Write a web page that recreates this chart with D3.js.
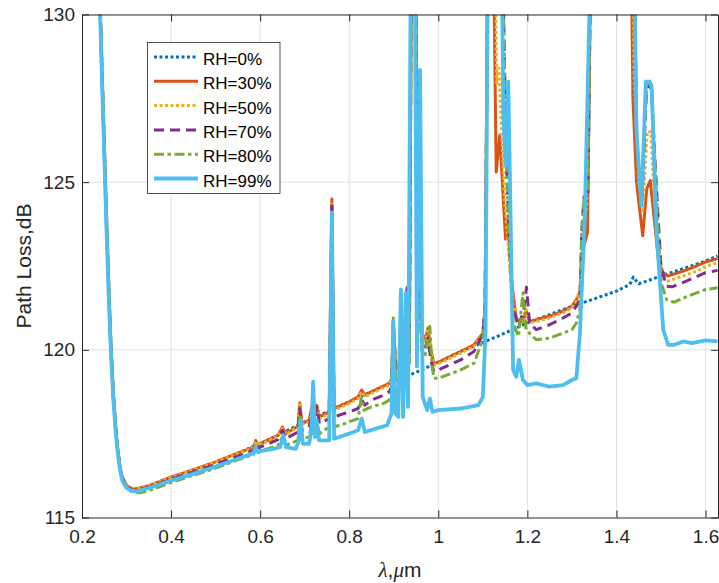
<!DOCTYPE html>
<html>
<head>
<meta charset="utf-8">
<script src="https://cdn.jsdelivr.net/npm/d3@7"></script>
<style>
body { margin: 0; background: #fff; }
text { font-family: "Liberation Sans", Arial, Helvetica, sans-serif; }
</style>
</head>
<body>
<script>
// [wavelength in um, path loss in dB]
let rh0 = [[0.225,137],[0.23,134.5],[0.235,132.3],[0.24,130.3],[0.245,128.0],[0.25,125.8],[0.255,123.6],[0.26,121.6],[0.265,119.9],[0.27,118.6],[0.275,117.7],[0.28,117.0],[0.285,116.5],[0.29,116.2],[0.3,115.95],[0.31,115.86],[0.32,115.85],[0.33,115.87],[0.35,115.94],[0.4,116.2],[0.45,116.42],[0.5,116.65],[0.55,116.92],[0.59,117.15],[0.6,117.2],[0.65,117.52],[0.685,117.75],[0.689,118.3],[0.693,117.8],[0.7,117.85],[0.75,118.15],[0.757,118.2],[0.761,124.3],[0.765,118.25],[0.8,118.45],[0.85,118.75],[0.9,119.05],[0.95,119.33],[1.0,119.63],[1.05,119.95],[1.1,120.22],[1.15,120.5],[1.2,120.8],[1.25,121.05],[1.3,121.3],[1.35,121.52],[1.4,121.75],[1.43,121.95],[1.438,122.17],[1.445,122.05],[1.45,121.97],[1.5,122.2],[1.55,122.42],[1.6,122.65],[1.627,122.8]]

let rh30 = [[0.225,137.2],[0.23,134.7],[0.235,132.5],[0.24,130.5],[0.245,128.2],[0.25,126.0],[0.255,123.8],[0.26,121.8],[0.265,120.0],[0.27,118.7],[0.275,117.75],[0.28,117.05],[0.285,116.55],[0.29,116.22],[0.3,115.96],[0.31,115.87],[0.32,115.86],[0.33,115.88],[0.35,115.95],[0.4,116.2],[0.45,116.43],[0.5,116.66],[0.55,116.92],[0.585,117.1],[0.59,117.3],[0.595,117.15],[0.6,117.2],[0.64,117.45],[0.65,117.7],[0.657,117.5],[0.685,117.72],[0.689,118.42],[0.694,117.8],[0.71,117.9],[0.716,118.3],[0.72,118.0],[0.727,118.35],[0.733,118.0],[0.755,118.15],[0.761,124.5],[0.766,118.25],[0.8,118.45],[0.82,118.6],[0.828,118.8],[0.835,118.65],[0.85,118.75],[0.89,119.0],[0.895,119.15],[0.899,120.6],[0.905,119.5],[0.915,119.6],[0.925,120.0],[0.93,121.8],[0.935,120.0],[0.941,135],[0.948,135],[0.953,121.3],[0.958,122.0],[0.963,120.5],[0.97,120.3],[0.977,120.65],[0.983,120.0],[0.99,119.6],[1.0,119.63],[1.05,119.95],[1.08,120.15],[1.1,120.5],[1.105,121.2],[1.112,133],[1.118,135],[1.122,134],[1.13,125.3],[1.138,126.4],[1.151,123.3],[1.157,124.0],[1.165,122.0],[1.175,120.9],[1.19,120.85],[1.197,121.15],[1.205,120.85],[1.25,121.0],[1.28,121.15],[1.3,121.3],[1.31,121.5],[1.318,121.7],[1.325,123.0],[1.335,123.5],[1.345,135],[1.43,135],[1.437,127.5],[1.445,125.0],[1.459,123.4],[1.468,124.8],[1.476,125.05],[1.484,124.0],[1.495,122.6],[1.505,122.3],[1.515,122.2],[1.55,122.35],[1.58,122.5],[1.6,122.62],[1.627,122.72]]

let rh50 = [[0.225,137.2],[0.23,134.7],[0.235,132.5],[0.24,130.5],[0.245,128.2],[0.25,126.0],[0.255,123.8],[0.26,121.8],[0.265,120.0],[0.27,118.7],[0.275,117.75],[0.28,117.05],[0.285,116.55],[0.29,116.22],[0.3,115.96],[0.31,115.87],[0.32,115.86],[0.33,115.88],[0.35,115.95],[0.4,116.19],[0.45,116.42],[0.5,116.65],[0.55,116.9],[0.585,117.08],[0.59,117.28],[0.595,117.13],[0.6,117.18],[0.64,117.42],[0.65,117.65],[0.657,117.47],[0.685,117.7],[0.689,118.38],[0.694,117.78],[0.71,117.85],[0.716,118.25],[0.72,117.95],[0.727,118.3],[0.733,117.95],[0.755,118.1],[0.761,124.4],[0.766,118.2],[0.8,118.4],[0.82,118.55],[0.828,118.75],[0.835,118.6],[0.85,118.7],[0.89,118.95],[0.895,119.1],[0.899,120.8],[0.905,119.45],[0.915,119.55],[0.925,119.95],[0.93,121.7],[0.935,120.1],[0.941,135],[0.948,135],[0.953,121.2],[0.958,121.9],[0.963,120.4],[0.97,120.25],[0.977,120.6],[0.983,119.95],[0.99,119.55],[1.0,119.58],[1.05,119.9],[1.08,120.1],[1.1,120.45],[1.105,121.3],[1.113,135],[1.125,135],[1.131,127.95],[1.136,128.4],[1.149,124.45],[1.165,121.8],[1.175,120.85],[1.19,120.8],[1.197,121.2],[1.205,120.8],[1.25,120.95],[1.28,121.1],[1.3,121.25],[1.31,121.45],[1.318,121.8],[1.325,123.5],[1.333,124.3],[1.345,135],[1.432,135],[1.44,128],[1.45,125],[1.459,124.15],[1.469,126.5],[1.477,126.5],[1.486,124.3],[1.497,122.5],[1.505,122.15],[1.515,122.05],[1.55,122.2],[1.58,122.35],[1.6,122.48],[1.627,122.6]]

let rh70 = [[0.225,137.3],[0.23,134.8],[0.235,132.6],[0.24,130.6],[0.245,128.3],[0.25,126.1],[0.255,123.9],[0.26,121.9],[0.265,120.1],[0.27,118.75],[0.275,117.75],[0.28,117.05],[0.285,116.52],[0.29,116.18],[0.3,115.93],[0.31,115.83],[0.32,115.81],[0.33,115.83],[0.35,115.9],[0.4,116.14],[0.45,116.36],[0.5,116.58],[0.55,116.83],[0.585,117.0],[0.59,117.22],[0.595,117.05],[0.6,117.1],[0.64,117.32],[0.65,117.6],[0.657,117.35],[0.685,117.55],[0.689,118.25],[0.694,117.6],[0.71,117.7],[0.716,118.1],[0.72,117.8],[0.727,118.3],[0.733,117.8],[0.755,117.95],[0.761,124.3],[0.766,118.0],[0.8,118.15],[0.82,118.25],[0.828,118.5],[0.835,118.35],[0.85,118.5],[0.877,118.65],[0.89,118.75],[0.895,118.9],[0.899,120.85],[0.905,119.3],[0.915,119.35],[0.925,119.8],[0.93,121.85],[0.935,119.9],[0.941,135],[0.948,135],[0.953,121.0],[0.958,121.7],[0.963,120.2],[0.97,120.0],[0.977,120.35],[0.983,119.7],[0.99,119.35],[1.0,119.4],[1.05,119.7],[1.08,119.95],[1.1,120.45],[1.105,121.4],[1.113,135],[1.14,135],[1.152,126],[1.16,123],[1.168,121.3],[1.18,120.7],[1.192,121.2],[1.198,121.87],[1.205,120.8],[1.22,120.6],[1.25,120.75],[1.28,120.95],[1.3,121.1],[1.31,121.3],[1.318,121.5],[1.322,123.5],[1.327,124.55],[1.336,124.7],[1.345,135],[1.436,135],[1.446,126],[1.457,124.4],[1.468,127.9],[1.478,127.8],[1.49,124.8],[1.5,122.5],[1.512,121.9],[1.525,121.88],[1.557,122.05],[1.6,122.3],[1.627,122.37]]

let rh80 = [[0.225,137.5],[0.23,135.0],[0.235,132.8],[0.24,130.8],[0.245,128.5],[0.25,126.3],[0.255,124.1],[0.26,122.1],[0.265,120.3],[0.27,118.9],[0.275,117.85],[0.28,117.1],[0.285,116.5],[0.29,116.12],[0.3,115.88],[0.31,115.78],[0.32,115.74],[0.33,115.74],[0.35,115.8],[0.4,116.04],[0.45,116.26],[0.5,116.47],[0.55,116.72],[0.585,116.88],[0.59,117.08],[0.595,116.92],[0.6,116.98],[0.64,117.15],[0.65,117.4],[0.657,117.15],[0.685,117.3],[0.689,118.0],[0.694,117.35],[0.71,117.4],[0.716,117.8],[0.72,117.5],[0.727,117.9],[0.733,117.5],[0.755,117.7],[0.761,123.9],[0.766,117.7],[0.79,117.8],[0.8,117.86],[0.82,117.95],[0.827,118.56],[0.833,118.2],[0.85,118.3],[0.877,118.4],[0.89,118.5],[0.895,118.7],[0.899,120.95],[0.905,119.1],[0.915,119.1],[0.925,119.5],[0.93,121.6],[0.935,119.6],[0.941,135],[0.948,135],[0.953,120.8],[0.958,121.5],[0.963,120.0],[0.97,119.8],[0.981,120.7],[0.986,119.5],[0.99,119.15],[1.0,119.15],[1.05,119.4],[1.08,119.6],[1.1,120.3],[1.105,121.3],[1.113,135],[1.14,135],[1.152,126],[1.16,122.8],[1.168,120.8],[1.18,120.4],[1.19,121.7],[1.197,120.6],[1.22,120.3],[1.25,120.35],[1.28,120.5],[1.3,120.6],[1.31,120.8],[1.318,121.2],[1.322,123.5],[1.327,124.47],[1.336,124.7],[1.345,135],[1.436,135],[1.446,126],[1.456,124.4],[1.468,128.0],[1.479,127.9],[1.49,124.5],[1.5,122.0],[1.513,121.49],[1.53,121.42],[1.56,121.6],[1.58,121.7],[1.6,121.8],[1.627,121.85]]

let rh99 = [[0.225,137.0],[0.23,134.5],[0.235,132.3],[0.24,130.3],[0.245,128.0],[0.25,125.8],[0.255,123.6],[0.26,121.6],[0.265,119.9],[0.27,118.6],[0.275,117.65],[0.28,116.95],[0.285,116.45],[0.29,116.12],[0.3,115.88],[0.31,115.8],[0.32,115.78],[0.33,115.8],[0.35,115.88],[0.4,116.1],[0.45,116.3],[0.5,116.52],[0.55,116.75],[0.585,116.92],[0.59,117.12],[0.595,116.95],[0.6,116.98],[0.63,117.05],[0.645,117.1],[0.652,117.45],[0.658,117.1],[0.68,117.05],[0.687,117.3],[0.691,117.9],[0.696,117.2],[0.71,117.2],[0.715,117.6],[0.719,119.05],[0.723,117.4],[0.727,117.9],[0.732,117.3],[0.755,117.3],[0.761,124.1],[0.766,117.35],[0.8,117.5],[0.82,117.6],[0.828,117.95],[0.835,117.55],[0.86,117.65],[0.885,117.75],[0.895,118.1],[0.899,120.85],[0.904,118.1],[0.91,118.0],[0.916,121.8],[0.921,118.0],[0.927,121.7],[0.932,118.3],[0.94,135],[0.946,135],[0.952,119.5],[0.959,128.35],[0.965,118.6],[0.975,118.2],[0.981,118.55],[0.987,118.15],[1.0,118.2],[1.05,118.25],[1.09,118.35],[1.1,118.6],[1.106,120.5],[1.113,135],[1.14,135],[1.146,127],[1.151,125.5],[1.157,128.0],[1.161,125],[1.168,119.4],[1.175,119.2],[1.181,119.7],[1.19,119.1],[1.2,118.95],[1.22,119.0],[1.25,118.9],[1.28,118.95],[1.3,119.1],[1.31,119.15],[1.318,120.5],[1.329,124.0],[1.34,130.5],[1.345,135],[1.436,135],[1.445,126.5],[1.456,124.3],[1.466,128.0],[1.475,128.0],[1.479,127.8],[1.49,123.5],[1.505,120.6],[1.516,120.15],[1.53,120.15],[1.55,120.25],[1.57,120.2],[1.6,120.28],[1.627,120.25]]

let seriesNames = ['RH=0%', 'RH=30%', 'RH=50%', 'RH=70%', 'RH=80%', 'RH=99%']
let xTicks = [0.2, 0.4, 0.6, 0.8, 1.0, 1.2, 1.4, 1.6]
let yTicks = [115, 120, 125, 130]

let seriesData = [rh0, rh30, rh50, rh70, rh80, rh99]
let colors = ['#0072BD', '#D95319', '#EDB120', '#7E2F8E', '#77AC30', '#4DBEEE']
let dashes = ['3,2.5', null, '3,2.5', '10,6', '10,3.5,3.5,3.5', null]
let widths = [3, 3, 3, 3, 3, 3.8]

let width = 719
let height = 583
let plotLeft = 82, plotRight = 718, plotTop = 14.5, plotBottom = 517.5
let axisColor = '#262626'

let svg = d3.select('body')
    .append('svg')
    .attr('width', width)
    .attr('height', height)

let xScale = d3.scaleLinear().domain([0.2, 1.628]).range([plotLeft, plotRight])
let yScale = d3.scaleLinear().domain([115, 130]).range([plotBottom, plotTop])

svg.append('defs')
    .append('clipPath')
    .attr('id', 'plot-clip')
    .append('rect')
    .attr('x', plotLeft)
    .attr('y', plotTop)
    .attr('width', plotRight - plotLeft)
    .attr('height', plotBottom - plotTop)

//grid
svg.append('g')
    .selectAll('line')
    .data(xTicks.slice(1))
    .enter()
    .append('line')
    .attr('x1', d => xScale(d))
    .attr('x2', d => xScale(d))
    .attr('y1', plotTop)
    .attr('y2', plotBottom)
    .attr('stroke', '#dfdfdf')

svg.append('g')
    .selectAll('line')
    .data(yTicks.slice(1, -1))
    .enter()
    .append('line')
    .attr('y1', d => yScale(d))
    .attr('y2', d => yScale(d))
    .attr('x1', plotLeft)
    .attr('x2', plotRight)
    .attr('stroke', '#dfdfdf')

//lines
let line = d3.line()
    .x(d => xScale(d[0]))
    .y(d => yScale(d[1]))

let plot = svg.append('g').attr('clip-path', 'url(#plot-clip)')

seriesData.forEach((data, i) => {
    plot.append('path')
        .datum(data)
        .attr('d', line)
        .attr('fill', 'none')
        .attr('stroke', colors[i])
        .attr('stroke-width', widths[i])
        .attr('stroke-dasharray', dashes[i])
        .attr('stroke-linejoin', 'round')
})

//axes
let styleAxis = (g) => {
    g.select('.domain').attr('stroke', axisColor)
    g.selectAll('.tick line').attr('stroke', axisColor)
    g.selectAll('.tick text')
        .attr('fill', axisColor)
        .style('font-family', '"Liberation Sans", Arial, sans-serif')
        .style('font-size', '19px')
}

let xAxis = d3.axisBottom(xScale)
    .tickValues(xTicks)
    .tickFormat(d3.format('~g'))
    .tickSize(-7)
    .tickSizeOuter(0)
    .tickPadding(12)

let yAxis = d3.axisLeft(yScale)
    .tickValues(yTicks)
    .tickSize(-7)
    .tickSizeOuter(0)
    .tickPadding(7)

svg.append('g')
    .attr('transform', 'translate(0,' + plotBottom + ')')
    .call(xAxis)
    .call(styleAxis)

svg.append('g')
    .attr('transform', 'translate(' + plotLeft + ',0)')
    .call(yAxis)
    .call(styleAxis)

svg.append('g')
    .attr('transform', 'translate(0,' + plotTop + ')')
    .call(d3.axisTop(xScale).tickValues(xTicks).tickSize(-7).tickSizeOuter(0).tickFormat(''))
    .call(styleAxis)

svg.append('g')
    .attr('transform', 'translate(' + plotRight + ',0)')
    .call(d3.axisRight(yScale).tickValues(yTicks).tickSize(-7).tickSizeOuter(0).tickFormat(''))
    .call(styleAxis)

//axis labels
svg.append('text')
    .attr('transform', 'translate(31,' + (plotTop + plotBottom) / 2 + ') rotate(-90)')
    .attr('text-anchor', 'middle')
    .attr('fill', axisColor)
    .style('font-size', '21px')
    .text('Path Loss,dB')

let xLabel = svg.append('text')
    .attr('x', (plotLeft + plotRight) / 2)
    .attr('y', 577)
    .attr('text-anchor', 'middle')
    .attr('fill', axisColor)
    .style('font-size', '21px')
xLabel.append('tspan').style('font-style', 'italic').style('font-family', '"Liberation Serif", serif').text('λ')
xLabel.append('tspan').text(',')
xLabel.append('tspan').style('font-style', 'italic').style('font-family', '"Liberation Serif", serif').text('μ')
xLabel.append('tspan').text('m')

//legend
let legend = svg.append('g')

legend.append('rect')
    .attr('x', 147.5)
    .attr('y', 42.5)
    .attr('width', 132.5)
    .attr('height', 151)
    .attr('fill', '#fff')
    .attr('stroke', axisColor)
    .attr('stroke-width', 0.8)

seriesNames.forEach((name, i) => {
    let y = 57 + i * 24.3
    legend.append('line')
        .attr('x1', 154)
        .attr('x2', 198)
        .attr('y1', y)
        .attr('y2', y)
        .attr('stroke', colors[i])
        .attr('stroke-width', widths[i])
        .attr('stroke-dasharray', dashes[i])
    legend.append('text')
        .attr('x', 203)
        .attr('y', y + 8)
        .attr('fill', '#000')
        .style('font-size', '17px')
        .text(name)
})
</script>
</body>
</html>
